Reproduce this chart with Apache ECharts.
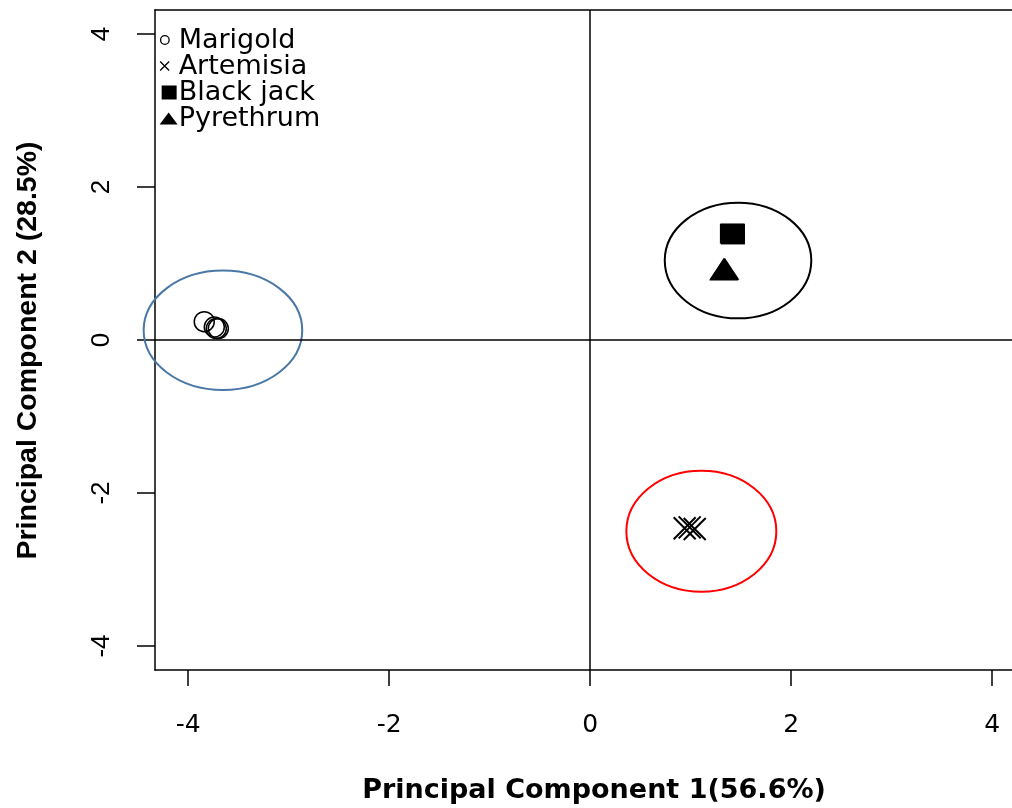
<!DOCTYPE html>
<html>
<head>
<meta charset="utf-8">
<script src="https://cdn.jsdelivr.net/npm/echarts@6/dist/echarts.min.js"></script>
<style>html,body{margin:0;padding:0;background:#fff}#c{width:1012px;height:808px}</style>
</head>
<body>
<div id="c"></div>
<script>
// ---- data ----
const xTicks = [-4, -2, 0, 2, 4];
const yTicks = [-4, -2, 0, 2, 4];
const xTitle = 'Principal Component 1(56.6%)';
const yTitle = 'Principal Component 2 (28.5%)';
const groups = ['Marigold', 'Artemisia', 'Black jack', 'Pyrethrum'];
const marigold = [[-3.84, 0.24], [-3.74, 0.17], [-3.72, 0.15], [-3.70, 0.15]];
const artemisia = [[0.94, -2.46], [0.99, -2.45], [1.04, -2.47]];
const blackjack = [[1.42, 1.39], [1.42, 1.38], [1.41, 1.39]];
const pyrethrum = [[1.33, 0.93], [1.33, 0.92], [1.34, 0.93]];
// ellipses: [centerX, centerY, radiusX, radiusY] in data units
const ellipseMarigold = [[-3.654, 0.127, 0.789, 0.78]];
const ellipseBlack = [[1.471, 1.039, 0.729, 0.756]];
const ellipseRed = [[1.106, -2.50, 0.746, 0.79]];

const chart = echarts.init(document.getElementById('c'), null, {renderer: 'canvas'});

function ellipseSeries(data, color) {
  return {
    type: 'custom', data: data, silent: true, clip: false, z: 1,
    renderItem: function (params, api) {
      const c = api.coord([api.value(0), api.value(1)]);
      const s = api.size([api.value(2), api.value(3)]);
      return {type: 'ellipse', shape: {cx: c[0], cy: c[1], rx: s[0], ry: s[1]},
        style: {fill: 'none', stroke: color, lineWidth: 2}};
    }
  };
}

const crossPath = 'path://M0,0L10,10M10,0L0,10';

const option = {
  animation: false,
  backgroundColor: '#fff',
  grid: {left: 155, right: 0, top: 10, bottom: 138, show: false, outerBoundsMode: 'none', containLabel: false},
  legend: {
    orient: 'vertical', left: 155, top: 27, padding: 0, itemWidth: 22, itemHeight: 16, itemGap: -1,
    textStyle: {fontFamily: 'DejaVu Sans', fontSize: 27, lineHeight: 22, color: '#000', padding: [0, 0, 0, -4]},
    data: [
      {name: groups[0], icon: 'path://M0,0M22,16M13.5,7.5A4.3,4.3,0,1,1,4.9,7.5A4.3,4.3,0,1,1,13.5,7.5Z', itemStyle: {color: 'rgba(0,0,0,0)', borderColor: '#000', borderWidth: 1.3, opacity: 1}},
      {name: groups[1], icon: 'path://M0,0M22,16M4.5,3L13.5,12M13.5,3L4.5,12', itemStyle: {color: 'rgba(0,0,0,0)', borderColor: '#000', borderWidth: 1.3, opacity: 1}},
      {name: groups[2], icon: 'path://M0,0M22,16M6,1H21V15H6Z', itemStyle: {color: '#000', borderWidth: 0, opacity: 1}},
      {name: groups[3], icon: 'path://M0,0M22,16M4,14L13,2L22,14Z', itemStyle: {color: '#000', borderWidth: 0, opacity: 1}}
    ]
  },
  xAxis: [{
    type: 'value', min: -4.33, max: 4.197, position: 'bottom',
    name: xTitle, nameLocation: 'middle', nameGap: 107,
    nameTextStyle: {fontFamily: 'DejaVu Sans', fontWeight: 'bold', fontSize: 27, color: '#000', padding: [0, 0, 0, 21]},
    axisLine: {show: true, onZero: false, lineStyle: {color: '#000', width: 1.5}},
    axisTick: {show: true, inside: false, length: 16, lineStyle: {color: '#000', width: 1.5}, customValues: xTicks},
    axisLabel: {show: true, margin: 43, fontFamily: 'DejaVu Sans', fontSize: 25, color: '#000', customValues: xTicks},
    splitLine: {show: false}
  }, {
    type: 'value', min: -4.33, max: 4.197, position: 'top',
    axisLine: {show: true, onZero: false, lineStyle: {color: '#000', width: 1.5}},
    axisTick: {show: false}, axisLabel: {show: false}, splitLine: {show: false}
  }],
  yAxis: {
    type: 'value', min: -4.314, max: 4.314,
    name: yTitle, nameLocation: 'middle', nameGap: 112,
    nameTextStyle: {fontFamily: 'Liberation Sans', fontWeight: 'bold', fontSize: 28.5, color: '#000', padding: [0, 21, 0, 0]},
    axisLine: {show: true, onZero: false, lineStyle: {color: '#000', width: 1.5}},
    axisTick: {show: true, inside: false, length: 18, lineStyle: {color: '#000', width: 1.5}, customValues: yTicks},
    axisLabel: {show: true, margin: 40, rotate: 90, fontFamily: 'Liberation Sans', fontSize: 26, color: '#000', customValues: yTicks},
    splitLine: {show: false}
  },
  series: [
    ellipseSeries(ellipseMarigold, '#4a78a6'),
    ellipseSeries(ellipseBlack, '#000'),
    ellipseSeries(ellipseRed, '#ff0000'),
    {
      name: groups[0], type: 'scatter', data: marigold, symbol: 'circle', symbolSize: 20, z: 3,
      itemStyle: {color: 'rgba(0,0,0,0)', borderColor: '#000', borderWidth: 1.5, opacity: 1},
      markLine: {
        silent: true, symbol: 'none', label: {show: false},
        lineStyle: {color: '#000', type: 'solid', width: 1.5, opacity: 1},
        data: [{xAxis: 0}, {yAxis: 0}]
      }
    },
    {
      name: groups[1], type: 'scatter', data: artemisia, symbol: crossPath, symbolSize: 22, z: 3,
      itemStyle: {color: 'rgba(0,0,0,0)', borderColor: '#000', borderWidth: 2, opacity: 1}
    },
    {
      name: groups[2], type: 'scatter', data: blackjack, symbol: 'rect', symbolSize: [24, 20], z: 3,
      itemStyle: {color: '#000', opacity: 1}
    },
    {
      name: groups[3], type: 'scatter', data: pyrethrum, symbol: 'triangle', symbolSize: [29, 22], z: 3,
      itemStyle: {color: '#000', opacity: 1}
    }
  ]
};
chart.setOption(option);
</script>
</body>
</html>
